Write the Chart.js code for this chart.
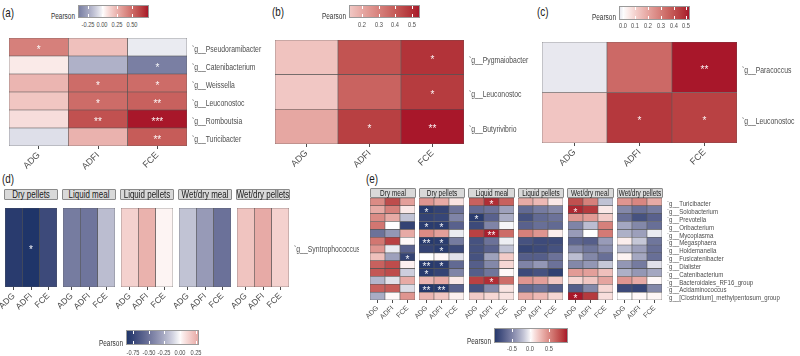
<!DOCTYPE html>
<html>
<head>
<meta charset="utf-8">
<script src="https://cdn.jsdelivr.net/npm/chart.js@4.4.1/dist/chart.umd.min.js"></script>
<style>
  body { margin: 0; background: #fff; }
  #fig { position: relative; width: 800px; height: 356px; overflow: hidden; font-family: "Liberation Sans", Arial, sans-serif; }
  #fig canvas { position: absolute; }
  .txt { position: absolute; white-space: nowrap; transform-origin: 0 0; color: #4d4d4d; }
  .strip { position: absolute; background: #d9d9d9; border: 1px solid #8a8a8a; border-radius: 1px; box-sizing: border-box; }
  .cbar { position: absolute; border: 1px solid #9a9a9a; box-sizing: border-box; }
  .cbtick { position: absolute; width: 1px; background: #fff; }
</style>
</head>
<body>
<div id="fig"></div>
<script>
const traits = ["ADG", "ADFI", "FCE"];

// (a)
const rowsA = ["g__Pseudoramibacter", "g__Catenibacterium", "g__Weissella", "g__Leuconostoc", "g__Romboutsia", "g__Turicibacter"];
const valsA = [
  [0.44, 0.20, -0.04],
  [0.06, -0.22, -0.42],
  [0.24, 0.52, 0.52],
  [0.18, 0.52, 0.56],
  [0.10, 0.62, 0.80],
  [-0.07, 0.25, 0.58],
];
const sigA = [["*", "", ""], ["", "", "*"], ["", "*", "*"], ["", "*", "**"], ["", "**", "***"], ["", "", "**"]];
const legendTicksA = [-0.25, 0, 0.25, 0.5];

// (b)
const rowsB = ["g__Pygmaiobacter", "g__Leuconostoc", "g__Butyrivibrio"];
const valsB = [
  [0.13, 0.42, 0.50],
  [0.12, 0.38, 0.48],
  [0.20, 0.47, 0.55],
];
const sigB = [["", "", "*"], ["", "", "*"], ["", "*", "**"]];
const legendTicksB = [0.2, 0.3, 0.4, 0.5];

// (c)
const rowsC = ["g__Paracoccus", "g__Leuconostoc"];
const valsC = [
  [-0.03, 0.35, 0.53],
  [0.12, 0.47, 0.45],
];
const sigC = [["", "", "**"], ["", "*", "*"]];
const legendTicksC = [0, 0.1, 0.2, 0.3, 0.4, 0.5];

// (d) one genus, five feeding groups
const facetsD = ["Dry pellets", "Liquid meal", "Liquid pellets", "Wet/dry meal", "Wet/dry pellets"];
const rowsD = ["g__Syntrophococcus"];
const valsD = [
  [[-0.82, -0.86, -0.73]],
  [[-0.47, -0.50, -0.19]],
  [[0.15, 0.27, 0.03]],
  [[-0.17, -0.33, -0.52]],
  [[0.20, 0.30, 0.15]],
];
const starsD = [[0, 0, 1, "*"]];
const legendTicksD = [-0.75, -0.5, -0.25, 0, 0.25];

// (e) 13 genera, six feeding groups
const facetsE = ["Dry meal", "Dry pellets", "Liquid meal", "Liquid pellets", "Wet/dry meal", "Wet/dry pellets"];
const rowsE = ["g__Turicibacter", "g__Solobacterium", "g__Prevotella", "g__Oribacterium", "g__Mycoplasma", "g__Megasphaera",
  "g__Holdemanella", "g__Fusicatenibacter", "g__Dialister", "g__Catenibacterium", "g__Bacteroidales_RF16_group",
  "g__Acidaminococcus", "g__[Clostridium]_methylpentosum_group"];
const eDryMeal = [
  [0.50, 0.80, 0.40], [0.35, 0.55, 0.08], [0.50, 0.35, -0.20], [0.60, 0.00, -0.90], [-0.60, -0.40, 0.35],
  [0.60, 0.85, 0.02], [0.45, -0.05, -0.70], [0.25, -0.35, -0.90], [0.70, 0.80, 0.05], [0.75, 0.80, -0.15],
  [-0.25, -0.08, 0.35], [0.70, 0.72, -0.10], [-0.30, 0.02, 0.45],
];
const eDryPellets = [
  [0.45, 0.35, 0.10], [-0.95, -0.90, -0.60], [-0.90, -0.88, -0.50], [-0.95, -0.95, -0.70], [0.50, 0.40, -0.05],
  [-0.97, -0.95, -0.55], [-0.90, -0.95, -0.85], [0.00, 0.02, -0.08], [-0.97, -0.95, -0.65], [-0.95, -0.90, -0.50],
  [0.30, 0.35, 0.08], [-0.97, -0.97, -0.70], [0.30, 0.22, 0.05],
];
const eLiquidMeal = [
  [0.70, 0.93, 0.70], [-0.65, -0.60, -0.35], [-0.95, -0.70, -0.30], [-0.85, -0.50, -0.02], [0.85, 0.98, 0.65],
  [-0.80, -0.60, -0.04], [-0.80, -0.70, -0.20], [-0.80, -0.35, 0.20], [-0.72, -0.48, 0.15], [-0.72, -0.58, 0.02],
  [0.85, 0.93, 0.65], [-0.80, -0.48, 0.10], [0.20, 0.15, 0.10],
];
const eLiquidPellets = [
  [0.35, 0.28, 0.08], [-0.65, -0.55, -0.48], [-0.80, -0.65, -0.60], [-0.70, -0.62, -0.65], [0.55, 0.45, 0.06],
  [-0.80, -0.85, -0.85], [-0.88, -0.85, -0.80], [-0.72, -0.72, -0.60], [-0.50, -0.40, -0.60], [-0.85, -0.80, -0.92],
  [0.45, 0.40, 0.22], [-0.65, -0.60, -0.72], [0.35, 0.28, 0.15],
];
const eWetDryMeal = [
  [0.78, 0.55, -0.20], [0.95, 0.88, 0.08], [0.45, 0.42, 0.20], [-0.50, -0.22, 0.55], [-0.38, 0.00, 0.58],
  [-0.68, -0.72, -0.38], [-0.48, -0.58, -0.45], [-0.22, -0.48, -0.62], [-0.48, -0.40, -0.18], [0.42, 0.40, 0.25],
  [0.15, 0.22, 0.38], [-0.72, -0.48, 0.15], [1.00, 0.88, 0.12],
];
const eWetDryPellets = [
  [0.45, 0.52, 0.35], [-0.48, -0.62, -0.55], [-0.62, -0.80, -0.70], [-0.32, -0.48, -0.62], [-0.28, -0.36, -0.05],
  [0.06, -0.18, -0.58], [-0.22, -0.36, -0.62], [0.04, -0.32, -0.62], [-0.40, -0.55, -0.08], [-0.28, -0.40, -0.32],
  [0.45, 0.35, 0.02], [-0.85, -0.88, -0.48], [0.00, 0.02, 0.03],
];
const valsE = [eDryMeal, eDryPellets, eLiquidMeal, eLiquidPellets, eWetDryMeal, eWetDryPellets];
// [facet, row, trait, mark]
const starsE = [
  [0, 7, 2, "*"],
  [1, 1, 0, "*"], [1, 3, 0, "*"], [1, 3, 1, "*"], [1, 5, 0, "**"], [1, 5, 1, "*"], [1, 6, 1, "*"],
  [1, 8, 0, "**"], [1, 8, 1, "*"], [1, 9, 0, "*"], [1, 11, 0, "**"], [1, 11, 1, "**"],
  [2, 0, 1, "*"], [2, 2, 0, "*"], [2, 4, 1, "**"], [2, 10, 1, "*"],
  [4, 1, 0, "*"], [4, 12, 0, "*"],
];
const legendTicksE = [-0.5, 0, 0.5];

const FONT = '"Liberation Sans", Arial, sans-serif';
const SQUEEZE = 0.76;
const COLORS = { low: "#1f3569", mid: "#ffffff", high: "#a8172a", grid: "#555555", text: "#4d4d4d" };
const fig = document.getElementById("fig");

// colour interpolation in Lab space, like ggplot's gradient2
function lin(c) { c /= 255; return c <= 0.04045 ? c / 12.92 : Math.pow((c + 0.055) / 1.055, 2.4); }
function gam(c) { c = c <= 0.0031308 ? 12.92 * c : 1.055 * Math.pow(c, 1 / 2.4) - 0.055; return Math.round(Math.max(0, Math.min(1, c)) * 255); }
function toLab(hex) {
  const n = parseInt(hex.slice(1), 16);
  const r = lin(n >> 16 & 255), g = lin(n >> 8 & 255), b = lin(n & 255);
  const f = t => t > 0.008856 ? Math.cbrt(t) : 7.787 * t + 16 / 116;
  const x = f((r * 0.4124 + g * 0.3576 + b * 0.1805) / 0.95047);
  const y = f(r * 0.2126 + g * 0.7152 + b * 0.0722);
  const z = f((r * 0.0193 + g * 0.1192 + b * 0.9505) / 1.08883);
  return [116 * y - 16, 500 * (x - y), 200 * (y - z)];
}
function fromLab([L, A, B]) {
  const fy = (L + 16) / 116, fx = A / 500 + fy, fz = fy - B / 200;
  const g = t => t ** 3 > 0.008856 ? t ** 3 : (t - 16 / 116) / 7.787;
  const x = g(fx) * 0.95047, y = g(fy), z = g(fz) * 1.08883;
  return `rgb(${gam(x * 3.2406 - y * 1.5372 - z * 0.4986)},${gam(-x * 0.9689 + y * 1.8758 + z * 0.0415)},${gam(x * 0.0557 - y * 0.2040 + z * 1.0570)})`;
}
const LAB = { low: toLab(COLORS.low), mid: toLab(COLORS.mid), high: toLab(COLORS.high) };

function divergent(maxAbs) {
  return v => {
    const t = Math.max(-1, Math.min(1, v / maxAbs));
    const end = t < 0 ? LAB.low : LAB.high;
    const k = Math.pow(Math.abs(t), t < 0 ? 0.8 : 0.9);
    return fromLab(LAB.mid.map((m, i) => m + (end[i] - m) * k));
  };
}

function extent(blocks) {
  const all = blocks.flat(2);
  return [Math.min(...all), Math.max(...all)];
}

function text(str, x, y, size, align, color) {
  const el = document.createElement("div");
  el.className = "txt";
  el.textContent = str;
  el.style.left = x + "px";
  el.style.top = (y - size * 0.6) + "px";
  el.style.fontSize = size + "px";
  el.style.lineHeight = (size * 1.2) + "px";
  const shift = align === "right" ? " translateX(-100%)" : align === "center" ? " translateX(-50%)" : "";
  el.style.transform = `scaleX(${SQUEEZE})${shift}`;
  if (color) el.style.color = color;
  fig.appendChild(el);
}

function strip(str, x, y, w, h, size) {
  const el = document.createElement("div");
  el.className = "strip";
  Object.assign(el.style, { left: x + "px", top: y + "px", width: w + "px", height: h + "px" });
  fig.appendChild(el);
  text(str, x + w / 2, y + h / 2, size, "center", "#1a1a1a");
}

function colorbar(box, lo, hi, ticks, digits, colorOf, tickY, titleY) {
  const bar = document.createElement("div");
  bar.className = "cbar";
  const stops = [];
  for (let i = 0; i <= 20; i++) stops.push(colorOf(lo + (hi - lo) * i / 20) + " " + (i * 5) + "%");
  Object.assign(bar.style, { left: box.x + "px", top: box.y + "px", width: box.w + "px", height: box.h + "px",
    background: `linear-gradient(to right, ${stops.join(",")})` });
  fig.appendChild(bar);
  ticks.forEach(t => {
    const px = box.x + (t - lo) / (hi - lo) * box.w;
    [box.y + 1, box.y + box.h - 1 - box.h * 0.2].forEach(ty => {
      const m = document.createElement("div");
      m.className = "cbtick";
      Object.assign(m.style, { left: px + "px", top: ty + "px", height: (box.h * 0.2) + "px" });
      fig.appendChild(m);
    });
    text(t.toFixed(digits), px, tickY, 7.5, "center");
  });
  text("Pearson", box.x - 3, titleY, 8.5, "right", "#333");
}

function heatmap(cfg) {
  const { x, y, w, h, rows, vals, sig, colorOf, showRows, tickFont, rowFont, rowDy, padR } = cfg;
  const padL = 14, axisH = 24, n = rows.length;
  const canvas = document.createElement("canvas");
  canvas.width = w + padL + padR;
  canvas.height = h + axisH;
  canvas.style.left = (x - padL) + "px";
  canvas.style.top = y + "px";
  fig.appendChild(canvas);

  const datasets = rows.map((name, i) => ({
    label: name,
    data: traits.map(() => 1),
    backgroundColor: vals[i].map(colorOf),
    stars: sig[i],
    borderColor: COLORS.grid,
    borderWidth: 0.6,
    borderSkipped: false,
    barPercentage: 1,
    categoryPercentage: 1,
  })).reverse();

  const cellStars = {
    id: "cellStars",
    afterDatasetsDraw(chart) {
      const ctx = chart.ctx;
      ctx.save();
      ctx.fillStyle = "rgba(255,255,255,0.95)";
      ctx.font = `10px ${FONT}`;
      ctx.textAlign = "center";
      ctx.textBaseline = "middle";
      chart.data.datasets.forEach((ds, di) => {
        chart.getDatasetMeta(di).data.forEach((bar, j) => {
          const s = ds.stars[j];
          if (s) ctx.fillText(s, bar.x, (bar.y + bar.base) / 2 + 3);
        });
      });
      ctx.restore();
    }
  };

  const rowLabels = {
    id: "rowLabels",
    afterDraw(chart) {
      if (!showRows) return;
      const { ctx, chartArea, scales } = chart;
      ctx.save();
      ctx.fillStyle = COLORS.text;
      ctx.font = `${rowFont}px ${FONT}`;
      ctx.textBaseline = "middle";
      rows.forEach((name, i) => {
        ctx.save();
        ctx.translate(chartArea.right + 5, scales.y.getPixelForValue(n - i - 0.5) + rowDy);
        ctx.scale(SQUEEZE, 1);
        ctx.fillText("`" + name, 0, 0);
        ctx.restore();
      });
      ctx.restore();
    }
  };

  new Chart(canvas, {
    type: "bar",
    data: { labels: traits, datasets },
    options: {
      responsive: false,
      animation: false,
      events: [],
      devicePixelRatio: 1,
      layout: { padding: { left: padL, right: padR, top: 0, bottom: 0 } },
      plugins: { legend: { display: false }, tooltip: { enabled: false } },
      scales: {
        x: {
          stacked: true,
          border: { display: false },
          grid: { drawOnChartArea: false, offset: false, tickLength: 3, color: COLORS.text },
          ticks: { autoSkip: false, minRotation: 45, maxRotation: 45, padding: 1, color: COLORS.text, font: { family: FONT, size: tickFont } },
          afterFit: s => { s.height = axisH; },
        },
        y: { stacked: true, display: false, min: 0, max: n },
      },
    },
    plugins: [cellStars, rowLabels],
  });
}

function sigFrom(list, facet, nRows) {
  const m = Array.from({ length: nRows }, () => traits.map(() => ""));
  list.filter(s => s[0] === facet).forEach(([, r, c, mark]) => { m[r][c] = mark; });
  return m;
}

// panel tags
text("(a)", 2, 13, 13, "left", "#1a1a1a");
text("(b)", 272, 12, 13, "left", "#1a1a1a");
text("(c)", 537, 12, 13, "left", "#1a1a1a");
text("(d)", 2, 179, 13, "left", "#1a1a1a");
text("(e)", 366, 179, 13, "left", "#1a1a1a");

// (a)
const [loA, hiA] = extent(valsA);
const colA = divergent(Math.max(-loA, hiA));
heatmap({ x: 9, y: 38, w: 178, h: 108, rows: rowsA, vals: valsA, sig: sigA, colorOf: colA,
  showRows: true, tickFont: 9, rowFont: 9, rowDy: 2.5, padR: 85 });
colorbar({ x: 78, y: 5, w: 71, h: 13 }, loA, hiA, legendTicksA, 2, colA, 24.5, 16.5);

// (b)
const [loB, hiB] = extent(valsB);
const colB = divergent(Math.max(-loB, hiB));
heatmap({ x: 275, y: 40, w: 189, h: 104, rows: rowsB, vals: valsB, sig: sigB, colorOf: colB,
  showRows: true, tickFont: 9, rowFont: 9, rowDy: 3, padR: 70 });
colorbar({ x: 349, y: 5, w: 71, h: 13 }, loB, hiB, legendTicksB, 1, colB, 24.5, 16);

// (c)
const [loC, hiC] = extent(valsC);
const colC = divergent(Math.max(-loC, hiC));
heatmap({ x: 542, y: 42, w: 195, h: 101, rows: rowsC, vals: valsC, sig: sigC, colorOf: colC,
  showRows: true, tickFont: 9, rowFont: 9, rowDy: 3.5, padR: 62 });
colorbar({ x: 619, y: 6, w: 71, h: 14 }, loC, hiC, legendTicksC, 1, colC, 25, 17);

// (d)
const [loD, hiD] = extent(valsD);
const colD = divergent(Math.max(-loD, hiD));
facetsD.forEach((name, k) => {
  const fx = 5 + k * 58;
  strip(name, fx - 1, 189, 54, 11, 10.5);
  heatmap({ x: fx, y: 208, w: 52, h: 79, rows: rowsD, vals: valsD[k], sig: sigFrom(starsD, k, rowsD.length), colorOf: colD,
    showRows: k === facetsD.length - 1, tickFont: 8.5, rowFont: 9, rowDy: 2.5, padR: k === facetsD.length - 1 ? 70 : 0 });
});
colorbar({ x: 126, y: 330, w: 73, h: 15 }, loD, hiD, legendTicksD, 2, colD, 352.5, 343);

// (e)
const [loE, hiE] = extent(valsE);
const colE = divergent(Math.max(-loE, hiE));
facetsE.forEach((name, k) => {
  const fx = 370 + k * 49.4;
  strip(name, fx - 0.5, 188, 46.5, 9.5, 8.5);
  heatmap({ x: fx, y: 198.3, w: 45.5, h: 102.7, rows: rowsE, vals: valsE[k], sig: sigFrom(starsE, k, rowsE.length), colorOf: colE,
    showRows: k === facetsE.length - 1, tickFont: 7, rowFont: 8, rowDy: 2, padR: k === facetsE.length - 1 ? 135 : 0 });
});
colorbar({ x: 494, y: 328, w: 74, h: 15 }, loE, hiE, legendTicksE, 1, colE, 348.5, 341.5);
</script>
</body>
</html>
